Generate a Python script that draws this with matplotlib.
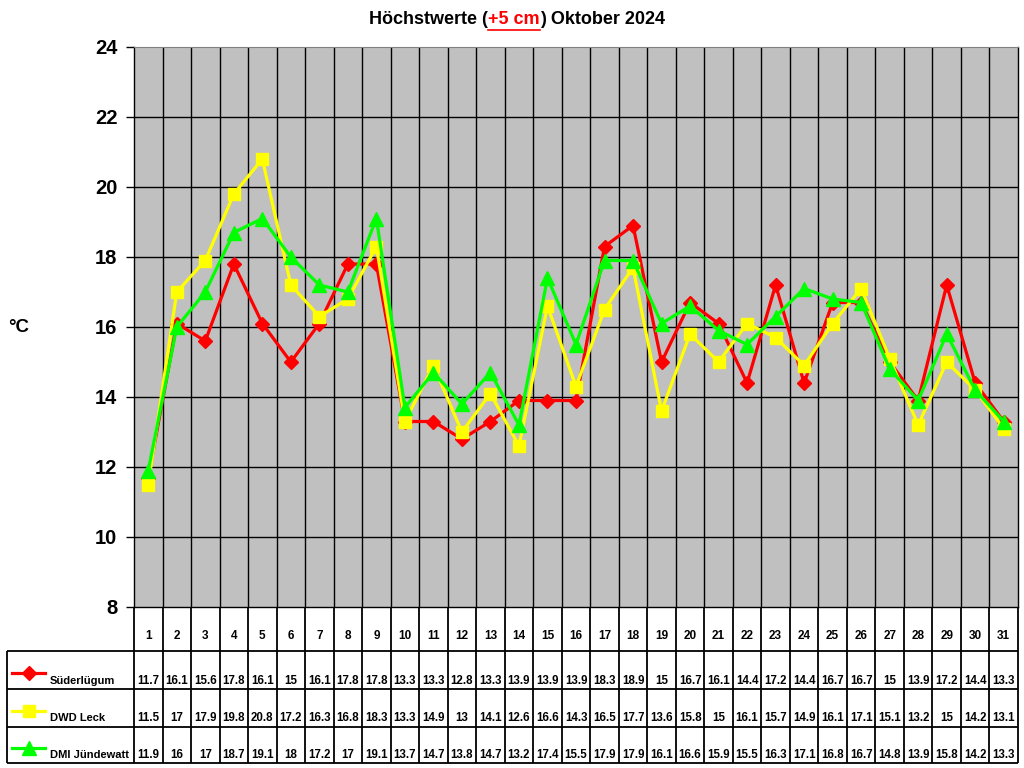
import matplotlib
matplotlib.use('Agg')
import matplotlib.pyplot as plt
from matplotlib.lines import Line2D

plt.rcParams['font.family'] = ['Liberation Sans', 'DejaVu Sans']
plt.rcParams['font.weight'] = 'bold'

# ---------------- data ----------------
days = list(range(1, 32))
suederluegum = [11.7, 16.1, 15.6, 17.8, 16.1, 15, 16.1, 17.8, 17.8, 13.3, 13.3, 12.8, 13.3, 13.9, 13.9, 13.9,
                18.3, 18.9, 15, 16.7, 16.1, 14.4, 17.2, 14.4, 16.7, 16.7, 15, 13.9, 17.2, 14.4, 13.3]
dwd_leck = [11.5, 17, 17.9, 19.8, 20.8, 17.2, 16.3, 16.8, 18.3, 13.3, 14.9, 13, 14.1, 12.6, 16.6, 14.3,
            16.5, 17.7, 13.6, 15.8, 15, 16.1, 15.7, 14.9, 16.1, 17.1, 15.1, 13.2, 15, 14.2, 13.1]
dmi_juendewatt = [11.9, 16, 17, 18.7, 19.1, 18, 17.2, 17, 19.1, 13.7, 14.7, 13.8, 14.7, 13.2, 17.4, 15.5,
                  17.9, 17.9, 16.1, 16.6, 15.9, 15.5, 16.3, 17.1, 16.8, 16.7, 14.8, 13.9, 15.8, 14.2, 13.3]
series_names = ['Süderlügum', 'DWD Leck', 'DMI Jündewatt']
series_values = [suederluegum, dwd_leck, dmi_juendewatt]
series_colors = ['#FF0000', '#FFFF00', '#00FF00']
series_markers = ['D', 's', '^']
series_msize = [6.8, 8.5, 9.5]
yticks = [8, 10, 12, 14, 16, 18, 20, 22, 24]
title_parts = ['Höchstwerte (', '+5 cm', ') Oktober 2024']
unit_label = '°C'

# ---------------- layout ----------------
W, H = 1024, 768
fig = plt.figure(figsize=(W / 100, H / 100), dpi=100)
fig.patch.set_facecolor('white')

tax = fig.add_axes([0, 0, 1, 1])
tax.set_xlim(0, W)
tax.set_ylim(H, 0)
tax.axis('off')
tax.set_zorder(0)

ax_left, ax_right, ax_top, ax_bottom = 134, 1018, 47, 607
ax = fig.add_axes([ax_left / W, 1 - ax_bottom / H, (ax_right - ax_left) / W, (ax_bottom - ax_top) / H])
ax.set_zorder(1)
ax.set_facecolor('#C0C0C0')
ax.set_xlim(0.5, len(days) + 0.5)
ax.set_ylim(8, 24)
ax.set_yticks(yticks)
ax.set_yticklabels([str(t) for t in yticks], fontsize=14.5, fontweight='bold')
ax.tick_params(axis='y', length=6, width=1, pad=6, color='black')
ax.set_xticks([])
for d in days[:-1]:
    ax.axvline(d + 0.5, color='black', lw=1, zorder=1)
for t in yticks[1:-1]:
    ax.axhline(t, color='black', lw=1, zorder=1)
for s in ['left', 'bottom', 'right']:
    ax.spines[s].set_color('black')
    ax.spines[s].set_linewidth(1)
ax.spines['top'].set_color('#808080')

for i, (vals, col, mk, ms) in enumerate(zip(series_values, series_colors, series_markers, series_msize)):
    ax.plot(days, vals, color=col, lw=2.3, marker=mk, markersize=ms,
            markeredgecolor=col, markerfacecolor=col, zorder=3 + i, clip_on=False)

# ---------------- table ----------------
fig.canvas.draw()
def xpx(xd):
    return ax.transData.transform((xd, 8))[0]

header_top = 607
row_edges = [651, 689, 727, 763]
right_px = xpx(len(days) + 0.5)
left_px = 7
lk = dict(color='black', lw=1.3, solid_capstyle='butt')
for b in range(len(days) + 1):
    xb = xpx(b + 0.5)
    tax.plot([xb, xb], [header_top, row_edges[-1]], **lk)
tax.plot([left_px, left_px], [row_edges[0], row_edges[-1]], **lk)
for y in row_edges:
    tax.plot([left_px, right_px], [y, y], **lk)

for d in days:
    tax.text(xpx(d), 636, str(d), ha='center', va='center', fontsize=8.5, fontweight='bold')

row_text_y = [681, 718, 755]
legend_y = [673, 711, 748]
for vals, name, col, mk, ms, ty, ly in zip(series_values, series_names, series_colors,
                                           series_markers, series_msize, row_text_y, legend_y):
    for d, v in zip(days, vals):
        tax.text(xpx(d), ty, f'{v:g}', ha='center', va='center', fontsize=8.3, fontweight='bold')
    tax.add_line(Line2D([12, 45], [ly, ly], color=col, lw=2.3))
    tax.add_line(Line2D([28.5], [ly], color=col, marker=mk, markersize=ms, markeredgecolor=col))
    tax.text(50, ty, name, ha='left', va='center', fontsize=8, fontweight='bold')

tax.text(8, 327, unit_label, ha='left', va='center', fontsize=13.5, fontweight='bold')

# ---------------- title ----------------
title_colors = ['black', '#FF0000', 'black']
renderer = fig.canvas.get_renderer()
texts = []
x = 0
for part, c in zip(title_parts, title_colors):
    t = tax.text(x, 20, part, ha='left', va='center', fontsize=13, fontweight='bold', color=c)
    bb = t.get_window_extent(renderer)
    texts.append((t, bb.width))
    x += bb.width
total = x
start = 517 - total / 2
cur = start
for i, (t, w) in enumerate(texts):
    t.set_x(cur)
    if i == 1:
        tax.plot([cur, cur + w], [30, 30], color='#FF0000', lw=1.2)
    cur += w

fig.savefig('out.png', dpi=100)
